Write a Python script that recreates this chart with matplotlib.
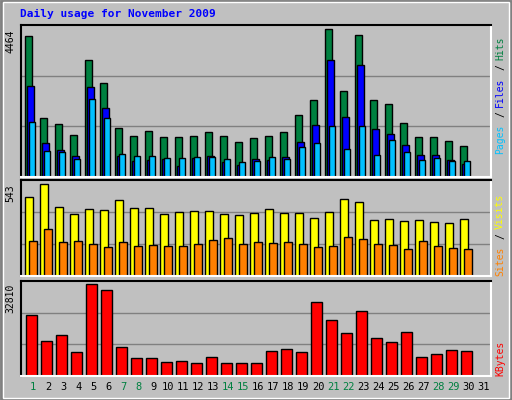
import matplotlib
matplotlib.use("Agg")
import matplotlib.pyplot as plt
from matplotlib.patches import Rectangle

days = list(range(1, 31))
hits = [4252, 1774, 1593, 1260, 3527, 2832, 1472, 1230, 1381, 1200, 1200, 1230, 1351, 1230, 1049,
        1170, 1230, 1351, 1865, 2318, 4464, 2590, 4282, 2318, 2197, 1623, 1200, 1200, 1079, 928]
files = [2762, 1040, 828, 647, 2732, 2097, 647, 496, 526, 556, 345, 586, 647, 465, 375,
         556, 526, 617, 1070, 1584, 3548, 1825, 3397, 1463, 1312, 979, 677, 677, 526, 405]
pages = [1674, 798, 768, 556, 2369, 1795, 707, 647, 647, 586, 586, 617, 617, 556, 465,
         496, 617, 556, 919, 1040, 1553, 858, 1553, 677, 1130, 768, 526, 586, 496, 496]
visits = [470, 543, 406, 365, 394, 388, 447, 400, 400, 365, 376, 382, 382, 365, 359,
          370, 394, 370, 370, 341, 376, 453, 435, 329, 335, 323, 329, 318, 312, 335]
sites = [206, 276, 200, 206, 188, 171, 200, 176, 182, 176, 176, 188, 212, 223, 188,
         200, 194, 200, 188, 171, 176, 229, 218, 188, 182, 159, 206, 176, 165, 159]
kbytes = [21594, 12646, 14793, 8709, 32810, 30541, 10498, 6562, 6562, 5130, 5488, 4772, 6919, 4772, 4772,
          4772, 9067, 9783, 8709, 26246, 19804, 15509, 23025, 13720, 12288, 15867, 6919, 7993, 9425, 9067]
day_labels = [str(d) for d in range(1, 32)]
weekend = [1, 7, 8, 14, 15, 21, 22, 28, 29]

BG = "#C0C0C0"
mono = "DejaVu Sans Mono"
fig = plt.figure(figsize=(5.12, 4.0), dpi=100, facecolor=BG)

# bevel around the whole picture
fig.patches.append(Rectangle((0.002, 0.002), 0.996, 0.996, transform=fig.transFigure,
                             fill=False, edgecolor="#808080", lw=2))
fig.patches.append(Rectangle((0.006, 0.006), 0.988, 0.988, transform=fig.transFigure,
                             fill=False, edgecolor="white", lw=1))


def make_axes(rect, ymax, scale):
    ax = fig.add_axes(rect, facecolor=BG)
    ax.set_xlim(0.18, 31.51)
    ax.set_ylim(0, ymax * scale)
    for y in (ymax * scale / 3, ymax * scale * 2 / 3):
        ax.axhline(y, color="#808080", lw=1, zorder=0)
    ax.set_xticks([])
    ax.set_yticks([])
    ax.spines["left"].set_color("black")
    ax.spines["top"].set_color("black")
    ax.spines["right"].set_color("white")
    ax.spines["bottom"].set_color("white")
    for s in ax.spines.values():
        s.set_linewidth(1.5)
    ax.text(-0.012, 1 - (scale - 1) / scale, str(ymax), transform=ax.transAxes, rotation=90,
            ha="right", va="top", fontsize=7, family=mono)
    return ax


def bars(ax, vals, off, width, color):
    ax.bar([d + off for d in days], vals, width=width, align="edge", color=color,
           edgecolor="black", linewidth=1)


ax1 = make_axes([0.041, 0.5575, 0.918, 0.38], max(hits), 1.03)
bars(ax1, hits, -0.55, 0.46, "#008040")
bars(ax1, files, -0.42, 0.47, "#0000FF")
bars(ax1, pages, -0.29, 0.42, "#00C0FF")

ax2 = make_axes([0.041, 0.31, 0.918, 0.24], max(visits), 1.046)
bars(ax2, visits, -0.55, 0.55, "#FFFF00")
bars(ax2, sites, -0.29, 0.52, "#FF8000")

ax3 = make_axes([0.041, 0.06, 0.918, 0.2375], max(kbytes), 1.033)
bars(ax3, kbytes, -0.49, 0.72, "#FF0000")

for i, lab in enumerate(day_labels):
    ax3.text(i + 1, -0.06, lab, transform=ax3.get_xaxis_transform(), ha="center", va="top",
             fontsize=7.5, family=mono, color="#008040" if i + 1 in weekend else "black")

fig.text(0.04, 0.965, "Daily usage for November 2009", color="#0000FF", fontsize=8,
         family=mono, weight="bold", ha="left", va="center")


# coloured side labels, read bottom to top
def side_label(parts, y_bottom):
    y = y_bottom
    for txt, col in parts:
        fig.text(0.977, y, txt, rotation=90, color=col, fontsize=7, family=mono,
                 ha="center", va="bottom")
        y += (len(txt) * 6.8 + 3) / 400


side_label([("Pages", "#00C0FF"), ("/", "black"), ("Files", "#0000FF"), ("/", "black"),
            ("Hits", "#008040")], 0.615)
side_label([("Sites", "#FF8000"), ("/", "black"), ("Visits", "#FFFF00")], 0.31)
side_label([("KBytes", "#FF0000")], 0.06)

fig.savefig("out.png", dpi=100, facecolor=BG)
